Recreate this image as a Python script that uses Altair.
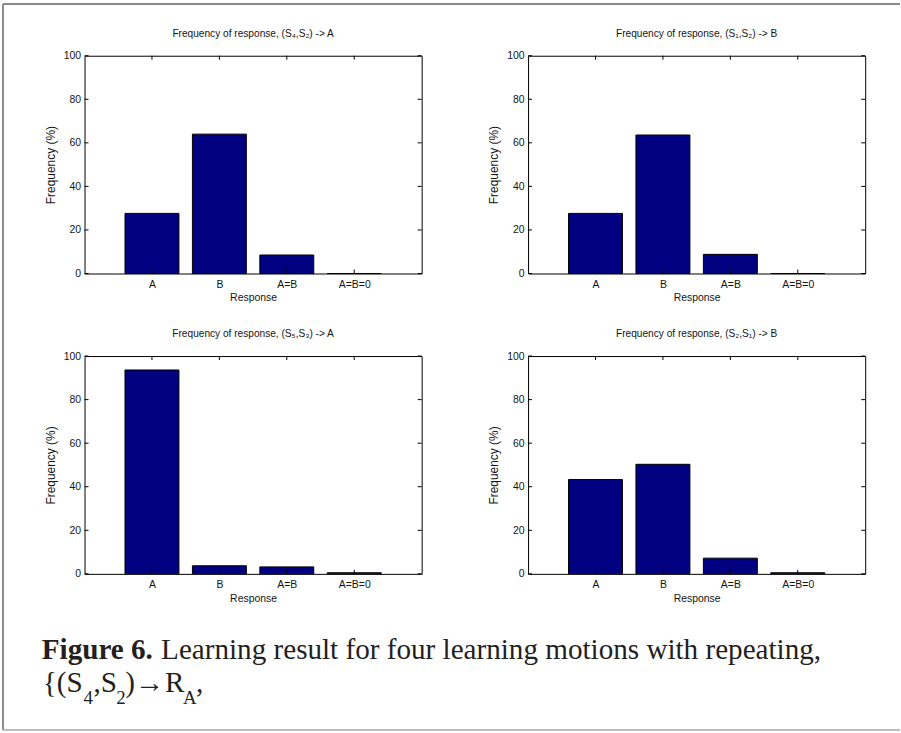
import altair as alt
import pandas as pd

# ---- data ---------------------------------------------------------------
responses = ["A", "B", "A=B", "A=B=0"]
positions = [1, 2, 3, 4]
y_ticks = [0, 20, 40, 60, 80, 100]

titles = [
    "Frequency of response, (S₄,S₂) -> A",
    "Frequency of response, (S₁,S₂) -> B",
    "Frequency of response, (S₅,S₃) -> A",
    "Frequency of response, (S₂,S₁) -> B",
]
freq_s4s2 = [27.6, 64.0, 8.5, 0.0]
freq_s1s2 = [27.6, 63.6, 8.8, 0.0]
freq_s5s3 = [93.6, 3.7, 3.2, 0.5]
freq_s2s1 = [43.3, 50.3, 7.2, 0.5]

caption_bold = "Figure 6."
caption_rest = "Learning result for four learning motions with repeating,"
caption_line2 = ["{(S", "4", ",S", "2", ")→", "R", "A", ","]
caption_line2_sub = [False, True, False, True, False, False, True, False]

# ---- styling / layout ---------------------------------------------------
W, H = 339, 219
BAR_HALF = 0.4
TICK_LEN = 4
SANS = "Liberation Sans"
SERIF = "Liberation Serif"
INK = "#141414"
NAVY = "#000080"

x_scale = alt.Scale(domain=[0, 5], nice=False, zero=False)
y_scale = alt.Scale(domain=[0, 100], nice=False)
label_expr = "[" + ",".join(f"'{r}'" for r in responses) + "][datum.value - 1]"


def panel(title, values):
    df = pd.DataFrame({"response": responses, "pos": positions, "freq": values})
    df["lo"] = df["pos"] - BAR_HALF
    df["hi"] = df["pos"] + BAR_HALF

    bars = alt.Chart(df).mark_rect(fill=NAVY, stroke="#000000", strokeWidth=1).encode(
        x=alt.X("lo:Q", scale=x_scale,
                axis=alt.Axis(values=positions, labelExpr=label_expr, title="Response",
                              ticks=False, domain=False, grid=False, labelPadding=6,
                              titlePadding=3, labelFlush=False)),
        x2="hi:Q",
        y=alt.Y("freq:Q", scale=y_scale,
                axis=alt.Axis(values=y_ticks, title="Frequency (%)", ticks=False,
                              domain=False, grid=False, labelPadding=4, titlePadding=6,
                              titleFontSize=12)),
        y2=alt.datum(0),
    )

    ydf = pd.DataFrame({"v": y_ticks})
    xdf = pd.DataFrame({"p": positions})
    rule = dict(color="#000000", strokeWidth=1)
    y_left = alt.Chart(ydf).mark_rule(**rule).encode(
        y=alt.Y("v:Q", scale=y_scale), x=alt.value(0), x2=alt.value(TICK_LEN))
    y_right = alt.Chart(ydf).mark_rule(**rule).encode(
        y=alt.Y("v:Q", scale=y_scale), x=alt.value(W - TICK_LEN), x2=alt.value(W))
    x_bottom = alt.Chart(xdf).mark_rule(**rule).encode(
        x=alt.X("p:Q", scale=x_scale), y=alt.value(H - TICK_LEN), y2=alt.value(H))
    x_top = alt.Chart(xdf).mark_rule(**rule).encode(
        x=alt.X("p:Q", scale=x_scale), y=alt.value(0), y2=alt.value(TICK_LEN))

    return alt.layer(bars, y_left, y_right, x_bottom, x_top).properties(
        width=W, height=H,
        title=alt.TitleParams(title, font=SANS, fontSize=10.2, fontWeight="normal",
                              color=INK, offset=12, anchor="middle"),
    )


panels = [panel(t, v) for t, v in zip(titles, [freq_s4s2, freq_s1s2, freq_s5s3, freq_s2s1])]

# ---- caption below the panels -------------------------------------------
CAP_SIZE = 29.3
SUB_SIZE = 19
line1_y, line2_y, sub_y = 3, 36, 48
line2_x = [-42, -1, 9, 32, 41, 81, 99, 112]


def text_layer(txt, x, y, size, weight="normal"):
    return alt.Chart(pd.DataFrame({"t": [txt]})).mark_text(
        align="left", baseline="alphabetic", font=SERIF, fontSize=size,
        fontWeight=weight, color="#231f20",
    ).encode(text="t:N", x=alt.value(x), y=alt.value(y))


cap_layers = [
    text_layer(caption_bold, -43, line1_y, CAP_SIZE, "bold"),
    text_layer(caption_rest, 77, line1_y, CAP_SIZE),
]
for seg, is_sub, xx in zip(caption_line2, caption_line2_sub, line2_x):
    cap_layers.append(text_layer(seg, xx, sub_y if is_sub else line2_y,
                                 SUB_SIZE if is_sub else CAP_SIZE))

# page frame
frame = dict(color="#8a8a8a", strokeWidth=2)
cap_layers += [
    alt.Chart(pd.DataFrame({"k": [0]})).mark_rule(**frame).encode(
        x=alt.value(-82), y=alt.value(-656), y2=alt.value(74)),
    alt.Chart(pd.DataFrame({"k": [0]})).mark_rule(**frame).encode(
        x=alt.value(-82), x2=alt.value(820), y=alt.value(-656)),
    alt.Chart(pd.DataFrame({"k": [0]})).mark_rule(color="#bdbdbd", strokeWidth=2).encode(
        x=alt.value(-82), x2=alt.value(820), y=alt.value(74)),
]

caption = alt.layer(*cap_layers).properties(
    width=W, height=50, view=alt.ViewBackground(strokeOpacity=0))

chart = alt.concat(
    *panels, caption, columns=2, bounds="flush",
    spacing={"row": 83, "column": 107},
).properties(
    padding={"left": 2, "top": 1, "right": 0, "bottom": 0},
    background="white",
).configure_view(
    stroke="#000000", strokeWidth=1,
).configure_axis(
    labelFont=SANS, labelFontSize=10.5, labelColor=INK,
    titleFont=SANS, titleFontSize=10.5, titleFontWeight="normal", titleColor=INK,
)

chart.save("out.html", embed_options={"renderer": "svg", "actions": False})
